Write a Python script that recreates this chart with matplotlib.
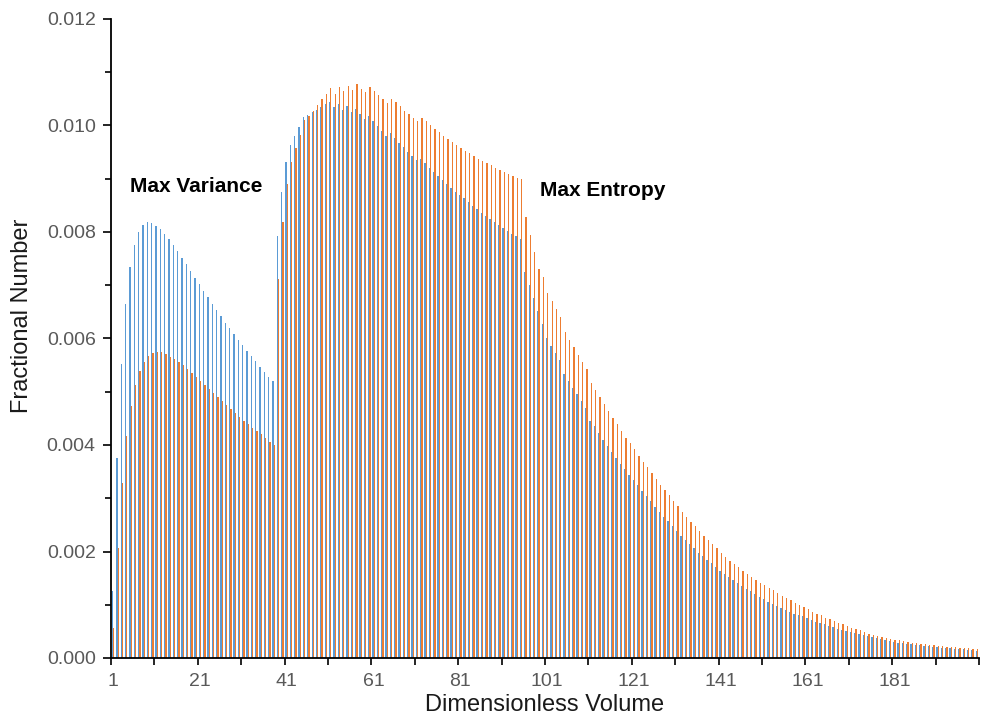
"""Clustered bar chart of fractional number vs dimensionless volume."""
import matplotlib
matplotlib.use("Agg")
import matplotlib.pyplot as plt
import numpy as np

volumes = list(range(1, 201))

max_variance = [
    0.00126, 0.00376, 0.00552, 0.00665, 0.00734, 0.00776, 0.00800, 0.00813, 0.00818, 0.00816,
    0.00812, 0.00806, 0.00796, 0.00787, 0.00775, 0.00764, 0.00751, 0.00739, 0.00727, 0.00714,
    0.00702, 0.00689, 0.00677, 0.00665, 0.00654, 0.00642, 0.00630, 0.00620, 0.00608, 0.00597,
    0.00587, 0.00577, 0.00567, 0.00557, 0.00547, 0.00538, 0.00528, 0.00520, 0.00792, 0.00876,
    0.00932, 0.00963, 0.00980, 0.00997, 0.01016, 0.01020, 0.01025, 0.01029, 0.01034, 0.01040,
    0.01045, 0.01034, 0.01040, 0.01030, 0.01036, 0.01026, 0.01031, 0.01022, 0.01012, 0.01017,
    0.01008, 0.00999, 0.00990, 0.00980, 0.00985, 0.00976, 0.00968, 0.00959, 0.00950, 0.00942,
    0.00935, 0.00938, 0.00929, 0.00921, 0.00913, 0.00905, 0.00897, 0.00890, 0.00883, 0.00876,
    0.00869, 0.00863, 0.00856, 0.00849, 0.00843, 0.00836, 0.00830, 0.00824, 0.00819, 0.00813,
    0.00808, 0.00802, 0.00797, 0.00792, 0.00787, 0.00725, 0.00700, 0.00676, 0.00652, 0.00628,
    0.00600, 0.00586, 0.00572, 0.00559, 0.00533, 0.00520, 0.00507, 0.00495, 0.00482, 0.00470,
    0.00446, 0.00435, 0.00423, 0.00410, 0.00399, 0.00387, 0.00376, 0.00365, 0.00354, 0.00344,
    0.00334, 0.00324, 0.00313, 0.00304, 0.00294, 0.00284, 0.00274, 0.00265, 0.00257, 0.00248,
    0.00239, 0.00230, 0.00222, 0.00214, 0.00206, 0.00198, 0.00191, 0.00184, 0.00178, 0.00171,
    0.00164, 0.00158, 0.00152, 0.00146, 0.00141, 0.00135, 0.00130, 0.00125, 0.00120, 0.00115,
    0.00111, 0.00106, 0.00102, 0.00098, 0.00094, 0.00090, 0.00087, 0.00083, 0.00080, 0.00078,
    0.00075, 0.00071, 0.00068, 0.00066, 0.00063, 0.00060, 0.00058, 0.00055, 0.00053, 0.00051,
    0.00049, 0.00047, 0.00045, 0.00043, 0.00041, 0.00039, 0.00037, 0.00035, 0.00034, 0.00032,
    0.00030, 0.00029, 0.00028, 0.00027, 0.00026, 0.00025, 0.00024, 0.00023, 0.00022, 0.00021,
    0.00020, 0.00019, 0.00018, 0.00018, 0.00017, 0.00016, 0.00016, 0.00015, 0.00015, 0.00014,
]

max_entropy = [
    0.00057, 0.00206, 0.00329, 0.00416, 0.00473, 0.00513, 0.00539, 0.00556, 0.00567, 0.00572,
    0.00574, 0.00574, 0.00571, 0.00566, 0.00561, 0.00556, 0.00550, 0.00543, 0.00536, 0.00528,
    0.00521, 0.00513, 0.00505, 0.00497, 0.00490, 0.00482, 0.00475, 0.00468, 0.00460, 0.00453,
    0.00446, 0.00439, 0.00432, 0.00426, 0.00420, 0.00414, 0.00406, 0.00400, 0.00712, 0.00818,
    0.00890, 0.00932, 0.00957, 0.00983, 0.01010, 0.01018, 0.01028, 0.01038, 0.01049, 0.01059,
    0.01070, 0.01060, 0.01072, 0.01064, 0.01075, 0.01067, 0.01077, 0.01069, 0.01062, 0.01072,
    0.01064, 0.01057, 0.01049, 0.01042, 0.01050, 0.01044, 0.01036, 0.01028, 0.01022, 0.01015,
    0.01008, 0.01015, 0.01008, 0.01001, 0.00994, 0.00987, 0.00981, 0.00975, 0.00969, 0.00964,
    0.00958, 0.00953, 0.00948, 0.00943, 0.00938, 0.00934, 0.00929, 0.00925, 0.00921, 0.00916,
    0.00913, 0.00909, 0.00905, 0.00902, 0.00899, 0.00828, 0.00795, 0.00762, 0.00730, 0.00716,
    0.00685, 0.00670, 0.00655, 0.00641, 0.00612, 0.00598, 0.00584, 0.00569, 0.00556, 0.00543,
    0.00516, 0.00503, 0.00490, 0.00477, 0.00464, 0.00451, 0.00439, 0.00427, 0.00414, 0.00403,
    0.00392, 0.00380, 0.00369, 0.00358, 0.00347, 0.00337, 0.00325, 0.00315, 0.00306, 0.00295,
    0.00285, 0.00275, 0.00265, 0.00256, 0.00247, 0.00238, 0.00229, 0.00222, 0.00214, 0.00207,
    0.00197, 0.00190, 0.00183, 0.00177, 0.00170, 0.00164, 0.00158, 0.00153, 0.00147, 0.00141,
    0.00137, 0.00131, 0.00127, 0.00122, 0.00117, 0.00113, 0.00109, 0.00104, 0.00100, 0.00096,
    0.00092, 0.00087, 0.00083, 0.00080, 0.00076, 0.00073, 0.00069, 0.00066, 0.00064, 0.00060,
    0.00057, 0.00054, 0.00052, 0.00049, 0.00046, 0.00044, 0.00042, 0.00039, 0.00038, 0.00036,
    0.00034, 0.00033, 0.00031, 0.00030, 0.00029, 0.00028, 0.00027, 0.00026, 0.00025, 0.00024,
    0.00023, 0.00022, 0.00021, 0.00021, 0.00020, 0.00019, 0.00019, 0.00018, 0.00017, 0.00017,
]

x_tick_labels = ["1", "21", "41", "61", "81", "101", "121", "141", "161", "181"]
y_ticks = [0.000, 0.002, 0.004, 0.006, 0.008, 0.010, 0.012]
y_minor_ticks = [0.001, 0.003, 0.005, 0.007, 0.009, 0.011]

BLUE = "#5B9BD5"
ORANGE = "#ED7D31"
GREY = "#595959"

plt.rcParams["font.family"] = ["Liberation Sans", "DejaVu Sans"]

fig = plt.figure(figsize=(9.82, 7.17), dpi=100)
W, H = 982, 717
ax = fig.add_axes([111 / W, 1 - 658 / H, (979 - 111) / W, (658 - 19) / H])

x = np.arange(len(volumes))
ax.bar(x - 0.15, max_variance, width=0.3, color=BLUE, linewidth=0)
ax.bar(x + 0.15, max_entropy, width=0.3, color=ORANGE, linewidth=0)

ax.set_xlim(-0.5, len(volumes) - 0.5)
ax.set_ylim(0, 0.012)

# y axis: labelled every 0.002, extra ticks in between
ax.set_yticks(y_ticks)
ax.set_yticklabels([f"{v:.3f}" for v in y_ticks])
ax.set_yticks(y_minor_ticks, minor=True)
ax.tick_params(axis="y", which="major", direction="out", length=6, width=1.2,
               colors="black", labelcolor=GREY, labelsize=14, pad=5)
ax.tick_params(axis="y", which="minor", direction="out", length=4, width=1.2, colors="black")

# x axis: ticks sit between categories every 10, labels every 20
ax.set_xticks(np.arange(-0.5, len(volumes), 10))
ax.set_xticklabels([])
ax.tick_params(axis="x", which="major", direction="out", length=5, width=1.2, colors="black")
ax.set_xticks([volumes.index(int(t)) for t in x_tick_labels], minor=True)
ax.set_xticklabels(x_tick_labels, minor=True)
ax.tick_params(axis="x", which="minor", length=0, labelcolor=GREY, labelsize=14, pad=11)

for side in ("top", "right"):
    ax.spines[side].set_visible(False)
for side in ("left", "bottom"):
    ax.spines[side].set_linewidth(1.3)
    ax.spines[side].set_color("black")

ax.set_xlabel("Dimensionless Volume", fontsize=17, color="#1a1a1a", labelpad=3)
ax.set_ylabel("Fractional Number", fontsize=17, color="#1a1a1a")
ax.yaxis.set_label_coords(-0.090, 0.535)

ax.text(3.9, 0.00886, "Max Variance", fontsize=15, fontweight="bold", va="center", ha="left")
ax.text(98.3, 0.00877, "Max Entropy", fontsize=15, fontweight="bold", va="center", ha="left")

fig.savefig("out.png", dpi=100)
plt.close(fig)
